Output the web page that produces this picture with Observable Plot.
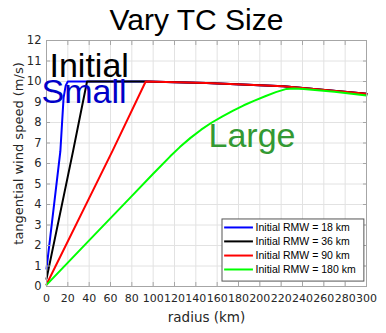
<!DOCTYPE html>
<html><head><meta charset="utf-8">
<script src="https://cdn.jsdelivr.net/npm/d3@7"></script>
<script src="https://cdn.jsdelivr.net/npm/@observablehq/plot@0.6"></script>
<style>body{margin:0;background:#fff}</style>
</head><body><div id="chart"></div>
<script>
// ---- data ----
const seriesNames = ["Initial RMW = 18 km", "Initial RMW = 36 km", "Initial RMW = 90 km", "Initial RMW = 180 km"];
const seriesColors = ["#0000ff", "#000000", "#ff0000", "#00ff00"];

const radius18 = [0, 13, 16, 18, 20, 40, 93, 150, 222, 300];
const speed18  = [0.86, 6.6, 9.2, 9.8, 10, 10, 10, 9.93, 9.77, 9.4];

const radius36 = [0, 25, 38, 93, 150, 222, 300];
const speed36  = [0.37, 6.63, 10, 10, 9.93, 9.77, 9.4];

const radius90 = [0, 62, 93, 150, 222, 300];
const speed90  = [0.1, 6.63, 10, 9.93, 9.77, 9.4];

const radius180 = [0, 40, 79, 100, 116, 125, 135, 145, 155, 165, 175, 185, 195, 205, 215, 225, 232, 241, 270, 300];
const speed180  = [0.08, 2.25, 4.36, 5.5, 6.35, 6.8, 7.25, 7.65, 8.0, 8.3, 8.58, 8.84, 9.07, 9.28, 9.48, 9.64, 9.66, 9.64, 9.5, 9.32];

const xTicks = [0, 20, 40, 60, 80, 100, 120, 140, 160, 180, 200, 220, 240, 260, 280, 300];
const yTicks = [0, 1, 2, 3, 4, 5, 6, 7, 8, 9, 10, 11, 12];

const titleText = "Vary TC Size";
const xLabel = "radius (km)";
const yLabel = "tangential wind speed (m/s)";

// ---- build table ----
const radii = [radius18, radius36, radius90, radius180];
const speeds = [speed18, speed36, speed90, speed180];
const rows = [];
seriesNames.forEach((name, i) => {
  radii[i].forEach((r, j) => rows.push({series: name, r, v: speeds[i][j]}));
});

const tickFont = "DejaVu Sans";
const mainFont = "Liberation Sans, Arial, sans-serif";

// legend rows (positions in data units inside the plot box)
const legendRows = seriesNames.map((name, i) => ({name, color: seriesColors[i], v: [2.88, 2.2, 1.51, 0.83][i]}));

const chart = Plot.plot({
  width: 386,
  height: 333,
  marginLeft: 46,
  marginRight: 20,
  marginTop: 40,
  marginBottom: 47,
  style: {background: "#fff", overflow: "visible"},
  x: {domain: [0, 300]},
  y: {domain: [0, 12]},
  color: {domain: seriesNames, range: seriesColors},
  marks: [
    Plot.gridX(xTicks, {stroke: "#e2e2e2", strokeOpacity: 1}),
    Plot.gridY(yTicks, {stroke: "#e2e2e2", strokeOpacity: 1}),
    Plot.line(rows, {x: "r", y: "v", z: "series", stroke: "series", strokeWidth: 2, curve: "linear"}),
    Plot.frame({stroke: "#a6a6a6"}),
    Plot.axisX({ticks: xTicks, tickSize: -4, tickPadding: 12, label: null, stroke: "#a6a6a6",
      fontSize: 11, fontFamily: tickFont, color: "#262626"}),
    Plot.axisX({anchor: "top", ticks: xTicks, tickSize: -4, tickFormat: () => "", label: null, stroke: "#a6a6a6"}),
    Plot.axisY({ticks: yTicks, tickSize: -4, tickPadding: 9, label: null, stroke: "#a6a6a6",
      fontSize: 11.5, fontFamily: tickFont, color: "#262626"}),
    Plot.axisY({anchor: "right", ticks: yTicks, tickSize: -4, tickFormat: () => "", label: null, stroke: "#a6a6a6"}),
    // axis labels
    Plot.text([xLabel], {frameAnchor: "bottom", lineAnchor: "middle", dy: 31, fontSize: 13.5, fontFamily: tickFont, fill: "#262626"}),
    Plot.text([yLabel], {frameAnchor: "left", textAnchor: "middle", lineAnchor: "middle", rotate: -90, dx: -28, dy: -10, fontSize: 13, fontFamily: tickFont, fill: "#262626"}),
    // title
    Plot.text([titleText], {frameAnchor: "top", lineAnchor: "middle", dx: -10, dy: -20, fontSize: 30, fontFamily: mainFont, fill: "#000"}),
    // annotations
    Plot.text(["Initial"], {frameAnchor: "top-left", textAnchor: "start", lineAnchor: "middle", dx: 3, dy: 26, fontSize: 34, fontFamily: mainFont, fill: "#000"}),
    Plot.text(["Small"], {frameAnchor: "top-left", textAnchor: "start", lineAnchor: "middle", dx: -5, dy: 52, fontSize: 34, fontFamily: mainFont, fill: "#0000c8"}),
    Plot.text(["Large"], {frameAnchor: "top-left", textAnchor: "start", lineAnchor: "middle", dx: 162, dy: 96, fontSize: 34, fontFamily: mainFont, fill: "#339933"}),
    // legend
    Plot.rect([0], {x1: 165, x2: 298, y1: 0.24, y2: 3.27, fill: "#fff", stroke: "#555", strokeWidth: 1}),
    Plot.ruleY(legendRows, {y: "v", x1: 167, x2: 194, stroke: "color", strokeWidth: 2}),
    Plot.text(legendRows, {x: 196, y: "v", text: "name", textAnchor: "start", fontSize: 10.5, fontFamily: mainFont, fill: "#000"})
  ]
});
document.getElementById("chart").appendChild(chart);
</script>
</body></html>
